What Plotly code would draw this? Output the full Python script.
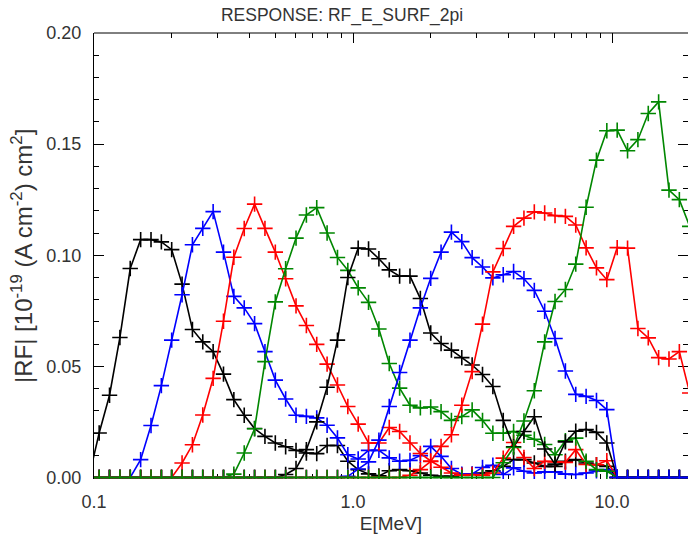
import plotly.graph_objects as go

# Energy grid [MeV] (log-spaced bin centres, 25 per decade)
energy_mev = [0.0955, 0.1047, 0.1148, 0.1259, 0.1380, 0.1514, 0.1660, 0.1820, 0.1995,
              0.2188, 0.2399, 0.2630, 0.2884, 0.3162, 0.3467, 0.3802, 0.4169, 0.4571,
              0.5012, 0.5495, 0.6026, 0.6607, 0.7244, 0.7943, 0.8710, 0.9550, 1.0471,
              1.1482, 1.2589, 1.3804, 1.5136, 1.6596, 1.8197, 1.9953, 2.1878, 2.3988,
              2.6303, 2.8840, 3.1623, 3.4674, 3.8019, 4.1687, 4.5709, 5.0119, 5.4954,
              6.0256, 6.6069, 7.2444, 7.9433, 8.7096, 9.5499, 10.4713, 11.4815, 12.5893,
              13.8038, 15.1356, 16.5959, 18.1970, 19.9526]

# |RF| per channel, units of 1e-19 A cm^-2 cm^2
ch1 = [0.0, 0.020, 0.037, 0.063, 0.094, 0.107, 0.107, 0.106, 0.1025, 0.087,
       0.0666, 0.061, 0.0566, 0.0465, 0.035, 0.028, 0.022, 0.0185, 0.0155, 0.0138,
       0.0122, 0.011, 0.0107, 0.0144, 0.0144, 0.0073, 0.0035, 0.0016, 0.0007, 0.003,
       0.0035, 0.003, 0.002, 0.001, 0.0005, 0.0005, 0.001, 0.0013, 0.002, 0.003,
       0.005, 0.008, 0.008, 0.0065, 0.005, 0.005, 0.0073, 0.008, 0.0065, 0.0057,
       0.005, 0.0, 0.0, 0.0, 0.0, 0.0, 0.0, 0.0, 0.0]
ch2 = [0.0, 0.0, 0.0, 0.0, 0.0, 0.008, 0.0234, 0.0413, 0.0618, 0.0822,
       0.1047, 0.1121, 0.1196, 0.1014, 0.0815, 0.0763, 0.0692, 0.0566, 0.0438, 0.0353,
       0.028, 0.0275, 0.0268, 0.0235, 0.0178, 0.0102, 0.0083, 0.0122, 0.0122, 0.0088,
       0.0073, 0.0077, 0.0098, 0.014, 0.0095, 0.004, 0.0015, 0.0016, 0.0045, 0.0055,
       0.0013, 0.0043, 0.0028, 0.002, 0.0025, 0.0025, 0.0015, 0.0013, 0.002, 0.003,
       0.0035, 0.0, 0.0, 0.0, 0.0, 0.0, 0.0, 0.0, 0.0]
ch3 = [0.0, 0.0, 0.0, 0.0, 0.0, 0.0, 0.0, 0.0, 0.0, 0.0065,
       0.0147, 0.0281, 0.0446, 0.0703, 0.0991, 0.112, 0.123, 0.1121, 0.1014, 0.0894,
       0.0772, 0.0684, 0.0599, 0.051, 0.0416, 0.0319, 0.024, 0.0155, 0.0155, 0.0225,
       0.0207, 0.0155, 0.0108, 0.0074, 0.0046, 0.002, 0.001, 0.0013, 0.001, 0.002,
       0.0087, 0.0157, 0.009, 0.004, 0.0073, 0.007, 0.0068, 0.0125, 0.0058, 0.0057,
       0.0075, 0.0, 0.0, 0.0, 0.0, 0.0, 0.0, 0.0, 0.0]
ch4 = [0.0, 0.0, 0.0, 0.0, 0.0, 0.0, 0.0, 0.0, 0.0, 0.0,
       0.0, 0.0, 0.0, 0.0, 0.0015, 0.011, 0.0219, 0.0521, 0.079, 0.0939,
       0.1077, 0.1181, 0.1214, 0.11, 0.099, 0.0932, 0.0853, 0.0788, 0.0668, 0.0513,
       0.0402, 0.0325, 0.0313, 0.0317, 0.0296, 0.0257, 0.0274, 0.0304, 0.0257, 0.0199,
       0.0199, 0.0207, 0.019, 0.0172, 0.0148, 0.0102, 0.0165, 0.0177, 0.0073, 0.0035,
       0.0028, 0.0, 0.0, 0.0, 0.0, 0.0, 0.0, 0.0, 0.0]
ch5 = [0.0, 0.0, 0.0, 0.0, 0.0, 0.0, 0.0, 0.0, 0.0, 0.0,
       0.0, 0.0, 0.0, 0.0, 0.0, 0.0, 0.0, 0.0, 0.0, 0.0013,
       0.004, 0.0125, 0.025, 0.0406, 0.0618, 0.09, 0.1032, 0.1028, 0.0984, 0.0934,
       0.0906, 0.0906, 0.0805, 0.065, 0.0603, 0.0573, 0.0539, 0.0506, 0.0463, 0.0409,
       0.0257, 0.0138, 0.0207, 0.0273, 0.0128, 0.006, 0.016, 0.0208, 0.0216, 0.0203,
       0.0155, 0.0, 0.0, 0.0, 0.0, 0.0, 0.0, 0.0, 0.0]
ch6 = [0.0, 0.0, 0.0, 0.0, 0.0, 0.0, 0.0, 0.0, 0.0, 0.0,
       0.0, 0.0, 0.0, 0.0, 0.0, 0.0, 0.0, 0.0, 0.0, 0.0,
       0.0, 0.0, 0.0, 0.0, 0.0, 0.0005, 0.0038, 0.007, 0.0168, 0.0319,
       0.0472, 0.0618, 0.0763, 0.0896, 0.1014, 0.1104, 0.1061, 0.0989, 0.0947, 0.0898,
       0.0912, 0.0927, 0.0894, 0.0842, 0.0748, 0.0625, 0.0479, 0.0374, 0.0365, 0.0346,
       0.0305, 0.0, 0.0, 0.0, 0.0, 0.0, 0.0, 0.0, 0.0]
ch7 = [0.0, 0.0, 0.0, 0.0, 0.0, 0.0, 0.0, 0.0, 0.0, 0.0,
       0.0, 0.0, 0.0, 0.0, 0.0, 0.0, 0.0, 0.0, 0.0, 0.0,
       0.0, 0.0, 0.0, 0.0, 0.0, 0.0, 0.0, 0.0, 0.0, 0.0,
       0.0, 0.001, 0.0035, 0.0072, 0.014, 0.0192, 0.0325, 0.0476, 0.069, 0.0925,
       0.103, 0.113, 0.1167, 0.1195, 0.119, 0.1178, 0.1175, 0.1136, 0.1033, 0.0943,
       0.089, 0.1034, 0.1032, 0.067, 0.0628, 0.0539, 0.0533, 0.0566, 0.038]
ch8 = [0.0, 0.0, 0.0, 0.0, 0.0, 0.0, 0.0, 0.0, 0.0, 0.0,
       0.0, 0.0, 0.0, 0.0, 0.0, 0.0, 0.0, 0.0, 0.0, 0.0,
       0.0, 0.0, 0.0, 0.0, 0.0, 0.0, 0.0, 0.0, 0.0, 0.0,
       0.0, 0.0, 0.0, 0.0, 0.0, 0.0, 0.0, 0.0, 0.0, 0.0,
       0.0066, 0.0135, 0.0254, 0.039, 0.061, 0.0792, 0.0846, 0.096, 0.1216, 0.1428,
       0.156, 0.1563, 0.147, 0.152, 0.1638, 0.169, 0.1293, 0.125, 0.113]

channels = [ch1, ch2, ch3, ch4, ch5, ch6, ch7, ch8]
colors = ["black", "rgb(0,0,255)", "rgb(255,0,0)", "rgb(0,135,0)"]

x_major = [0.1, 1.0, 10.0]
x_major_text = ["0.1", "1.0", "10.0"]
x_minor = [0.2, 0.3, 0.4, 0.5, 0.6, 0.7, 0.8, 0.9,
           2, 3, 4, 5, 6, 7, 8, 9, 20]

FONT = "Liberation Sans, Arial, sans-serif"
TXT = "#333333"

fig = go.Figure()
for i, vals in enumerate(channels):
    c = colors[i % 4]
    fig.add_trace(go.Scatter(
        x=energy_mev, y=vals, mode="lines+markers",
        line=dict(color=c, width=1.6),
        marker=dict(symbol="cross-thin", size=11, line=dict(color=c, width=1.6)),
        showlegend=False,
    ))

fig.update_layout(
    width=688, height=541,
    margin=dict(l=94, r=0, t=33, b=62),
    paper_bgcolor="white", plot_bgcolor="white",
    font=dict(family=FONT, size=18, color=TXT),
    title=dict(text="RESPONSE: RF_E_SURF_2pi", x=342 / 688, xref="container",
               xanchor="center", y=1 - 15 / 541, yref="container", yanchor="middle",
               font=dict(family=FONT, size=17.5, color=TXT)),
    # frame line along the top of the plotting area
    shapes=[dict(type="line", xref="paper", yref="paper", x0=0, x1=1, y0=1, y1=1,
                 line=dict(color="black", width=1))],
    annotations=[dict(
        text="|RF| [10<sup>-19</sup> (A cm<sup>-2</sup>) cm<sup>2</sup>]",
        xref="paper", yref="paper", x=-0.1212, y=0.5, xanchor="center",
        yanchor="middle", textangle=-90, showarrow=False,
        font=dict(family=FONT, size=24, color=TXT))],
)

fig.update_xaxes(
    type="log", range=[-1, 1.2934],
    tickmode="array", tickvals=x_major, ticktext=x_major_text,
    ticks="inside", ticklen=10, tickwidth=1, tickcolor="black",
    minor=dict(tickmode="array", tickvals=x_minor, ticks="inside",
               ticklen=5, tickwidth=1, tickcolor="black"),
    showline=True, linecolor="rgba(0,0,0,0)", linewidth=1, mirror="allticks",
    showgrid=False, zeroline=False, layer="below traces",
    tickfont=dict(family=FONT, size=18, color=TXT), ticklabelstandoff=6,
    title=dict(text="E[MeV]", font=dict(family=FONT, size=19, color=TXT), standoff=6),
)
fig.update_yaxes(
    range=[-0.0007, 0.2], tickmode="linear", tick0=0, dtick=0.05, tickformat=".2f",
    ticks="inside", ticklen=10, tickwidth=1, tickcolor="black",
    minor=dict(tick0=0, dtick=0.01, ticks="inside", ticklen=5, tickwidth=1,
               tickcolor="black"),
    showline=True, linecolor="black", linewidth=1, mirror="allticks",
    showgrid=False, zeroline=False, layer="below traces",
    tickfont=dict(family=FONT, size=18, color=TXT), ticklabelstandoff=8,
)

fig.write_html("out.html")
